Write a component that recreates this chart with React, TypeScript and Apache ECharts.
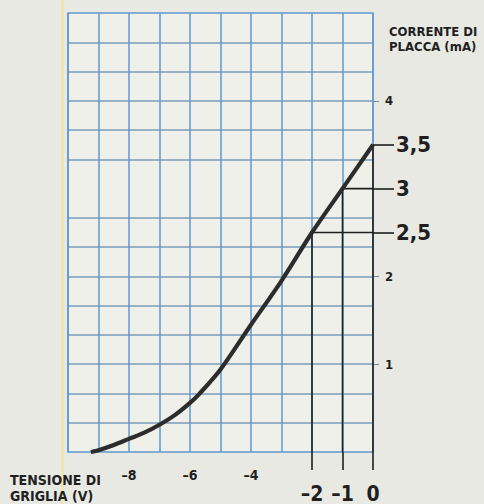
import React, { useEffect, useRef } from "react";
import * as echarts from "echarts";

// Grid voltage (V) and plate current (mA)
const gridVoltage = [-9.25, -9, -8.5, -8, -7.5, -7, -6.5, -6, -5.7, -5, -4, -3, -2, -1, 0];
const plateCurrent = [0, 0.02, 0.08, 0.15, 0.22, 0.31, 0.42, 0.56, 0.66, 0.94, 1.45, 1.95, 2.5, 3.0, 3.5];

// Highlighted operating points
const markedVoltage = [-2, -1, 0];
const markedCurrent = [2.5, 3, 3.5];

// Tick labels
const smallXTicks = [-8, -6, -4];
const bigXTicks = [-2, -1, 0];
const smallYTicks = [1, 2, 4];
const bigYTicks = [2.5, 3, 3.5];

const xTitle = "TENSIONE DI\nGRIGLIA (V)";
const yTitle = "CORRENTE DI\nPLACCA (mA)";

const FONT = '"Liberation Sans Narrow", "DejaVu Sans Condensed", "Roboto Condensed", "Liberation Sans", sans-serif';
const INK = "#1f1f1f";
const VBLUE = "#5f98cf";
const HBLUE = "#7a9cbb";
const PAPER = "#e8e9e3";

const fmtX = (v: number) => (v < 0 ? "\u2013" + Math.abs(v) : String(v));
const fmtY = (v: number) => String(v).replace(".", ",");

export default function App() {
  const ref = useRef<HTMLDivElement>(null);

  useEffect(() => {
    if (!ref.current) return;
    const chart = echarts.init(ref.current, undefined, { renderer: "svg" });

    const curve = gridVoltage.map((v, i) => [v, plateCurrent[i]]);
    const guideSeries = markedVoltage.map((v, i) => ({
      type: "line",
      data: [
        [v, 0],
        [v, markedCurrent[i]],
        [0, markedCurrent[i]],
      ],
      symbol: "none",
      lineStyle: { color: INK, width: 1.6 },
      z: 3,
      silent: true,
    }));

    const vLine = { color: VBLUE, width: 1.5 };
    const hLine = { color: HBLUE, width: 1.5 };

    chart.setOption({
      animation: false,
      backgroundColor: PAPER,
      grid: {
        left: 68,
        right: 111,
        top: 13,
        bottom: 41,
        show: true,
        backgroundColor: "#eff0e9",
        borderColor: VBLUE,
        borderWidth: 1.5,
      },
      xAxis: [
        {
          type: "value",
          min: -10,
          max: 0,
          interval: 1,
          axisLine: { show: false },
          axisTick: { show: false },
          splitLine: { show: true, lineStyle: vLine },
          axisLabel: {
            customValues: smallXTicks,
            formatter: fmtX,
            fontFamily: FONT,
            fontWeight: "bold",
            fontSize: 14,
            color: INK,
            margin: 16,
          },
        },
        {
          type: "value",
          position: "bottom",
          min: -10,
          max: 0,
          interval: 1,
          axisLine: { show: false },
          splitLine: { show: false },
          axisTick: {
            show: true,
            customValues: bigXTicks,
            length: 18,
            lineStyle: { color: INK, width: 1.6 },
          },
          axisLabel: {
            customValues: bigXTicks,
            showMinLabel: true,
            showMaxLabel: true,
            hideOverlap: false,
            formatter: fmtX,
            fontFamily: FONT,
            fontWeight: "bold",
            fontSize: 21,
            color: INK,
            margin: 31,
          },
        },
      ],
      yAxis: [
        {
          type: "value",
          position: "right",
          min: 0,
          max: 5,
          interval: 1,
          axisLine: { show: false },
          splitLine: { show: true, lineStyle: hLine },
          minorTick: { show: false, splitNumber: 3 },
          minorSplitLine: { show: true, lineStyle: hLine },
          axisTick: {
            show: true,
            customValues: smallYTicks,
            length: 6,
            lineStyle: { color: "#7a8a90", width: 1 },
          },
          axisLabel: {
            customValues: smallYTicks,
            formatter: fmtY,
            fontFamily: FONT,
            fontWeight: "bold",
            fontSize: 13,
            color: INK,
            margin: 12,
          },
        },
        {
          type: "value",
          position: "right",
          min: 0,
          max: 5,
          interval: 1,
          axisLine: { show: false },
          splitLine: { show: false },
          axisTick: {
            show: true,
            customValues: bigYTicks,
            length: 21,
            lineStyle: { color: INK, width: 1.6 },
          },
          axisLabel: {
            customValues: bigYTicks,
            showMinLabel: true,
            showMaxLabel: true,
            formatter: fmtY,
            fontFamily: FONT,
            fontWeight: "bold",
            fontSize: 22,
            color: INK,
            margin: 23,
          },
        },
      ],
      series: [
        ...guideSeries,
        {
          type: "line",
          data: curve,
          smooth: 0.3,
          symbol: "none",
          lineStyle: { color: "#2d2c2c", width: 4.2 },
          z: 5,
        },
      ],
      graphic: [
        {
          type: "line",
          shape: { x1: 62.5, y1: 0, x2: 62.5, y2: 504 },
          style: { stroke: "#e9e79a", lineWidth: 2 },
          silent: true,
        },
        {
          type: "text",
          x: 10,
          y: 472,
          style: {
            text: xTitle,
            fontFamily: FONT,
            fontWeight: "bold",
            fontSize: 14,
            lineHeight: 16,
            fill: INK,
          },
        },
        {
          type: "text",
          x: 389,
          y: 24,
          style: {
            text: yTitle,
            fontFamily: FONT,
            fontWeight: "bold",
            fontSize: 13,
            lineHeight: 15,
            fill: INK,
          },
        },
      ],
    });

    return () => chart.dispose();
  }, []);

  return (
    <div
      ref={ref}
      style={{ position: "absolute", left: 0, top: 0, width: 484, height: 504 }}
    />
  );
}
